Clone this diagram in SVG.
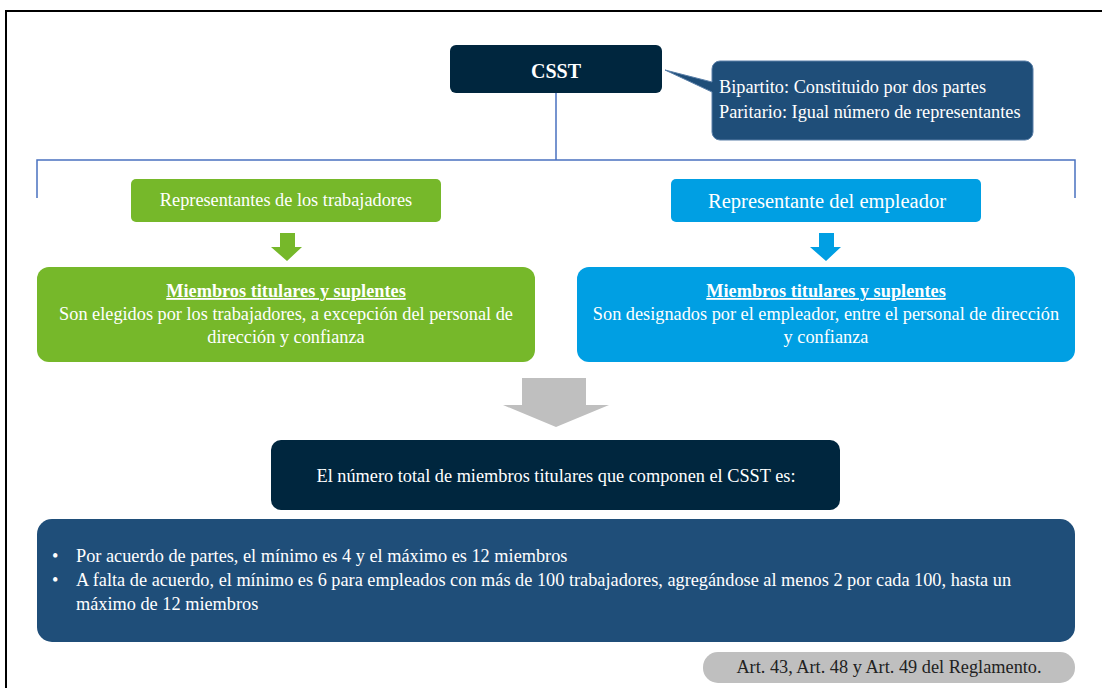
<svg xmlns="http://www.w3.org/2000/svg" width="1102" height="688" viewBox="0 0 1102 688" font-family="'Liberation Serif', 'Times New Roman', Tinos, serif">
<style>
.lbl{fill:#ffffff;font-size:18.3px;font-family:"Liberation Serif","Times New Roman",serif;}
.mid{text-anchor:middle;}
.conn{stroke:#4A72C0;stroke-width:1.5;fill:none;}
</style>
<rect x="0" y="0" width="1102" height="688" fill="#fff"/>
<path d="M6,688 V11 H1102" fill="none" stroke="#000" stroke-width="2"/>
<g id="connectors">
<path class="conn" d="M556,93 V160 M37,198 V160 H1075 V198"/>
</g>
<g id="csst">
<rect x="450" y="45" width="212" height="48" rx="6" fill="#00263E"/>
<text x="556" y="78" class="mid" fill="#fff" font-size="20" font-weight="bold">CSST</text>
</g>
<g id="callout">
<path d="M722,61 H1025 a8,8 0 0 1 8,8 V132 a8,8 0 0 1 -8,8 H720 a8,8 0 0 1 -8,-8 V92 L665,70 L712,82 V69 a8,8 0 0 1 8,-8 Z" fill="#1F4E79" stroke="#5A7FA8" stroke-width="1"/>
<text x="719" y="93" class="lbl">Bipartito: Constituido por dos partes</text>
<text x="719" y="118" class="lbl">Paritario: Igual número de representantes</text>
</g>
<g id="rep-trabajadores">
<rect x="131" y="179" width="310" height="43" rx="5" fill="#76B82A"/>
<text x="286" y="206" class="lbl mid">Representantes de los trabajadores</text>
</g>
<g id="rep-empleador">
<rect x="671" y="179" width="310" height="43" rx="5" fill="#009FE3"/>
<text x="827" y="208" class="lbl mid" style="font-size:20.5px">Representante del empleador</text>
</g>
<g id="arrow-green">
<path d="M280,233 H295 V247 H302 L287,261 L271,247 H280 Z" fill="#76B82A"/>
</g>
<g id="arrow-blue">
<path d="M819,233 H834 V247 H841 L826,261 L810,247 H819 Z" fill="#009FE3"/>
</g>
<g id="miembros-trabajadores">
<rect x="37" y="267" width="498" height="95" rx="12" fill="#76B82A"/>
<text x="286" y="297" class="lbl mid" font-weight="bold" text-decoration="underline">Miembros titulares y suplentes</text>
<text x="286" y="320" class="lbl mid">Son elegidos por los trabajadores, a excepción del personal de</text>
<text x="286" y="343" class="lbl mid">dirección y confianza</text>
</g>
<g id="miembros-empleador">
<rect x="577" y="267" width="498" height="95" rx="12" fill="#009FE3"/>
<text x="826" y="297" class="lbl mid" font-weight="bold" text-decoration="underline">Miembros titulares y suplentes</text>
<text x="826" y="320" class="lbl mid">Son designados por el empleador, entre el personal de dirección</text>
<text x="826" y="343" class="lbl mid">y confianza</text>
</g>
<g id="arrow-gray">
<path d="M522,378 H586 V405 H609 L556,427 L503,405 H522 Z" fill="#BFBFBF"/>
</g>
<g id="total">
<rect x="271" y="440" width="569" height="70" rx="10" fill="#00263E"/>
<text x="556" y="482" class="lbl mid">El número total de miembros titulares que componen el CSST es:</text>
</g>
<g id="reglas">
<rect x="37" y="519" width="1038" height="123" rx="15" fill="#1F4E79"/>
<text x="52" y="562" class="lbl">•</text>
<text x="76" y="562" class="lbl">Por acuerdo de partes, el mínimo es 4 y el máximo es 12 miembros</text>
<text x="52" y="586" class="lbl">•</text>
<text x="76" y="586" class="lbl">A falta de acuerdo, el mínimo es 6 para empleados con más de 100 trabajadores, agregándose al menos 2 por cada 100, hasta un</text>
<text x="76" y="610" class="lbl">máximo de 12 miembros</text>
</g>
<g id="referencia">
<rect x="703" y="652" width="372" height="31" rx="15" fill="#BFBFBF"/>
<text x="889" y="673" class="mid" fill="#222" font-size="18.3">Art. 43, Art. 48 y Art. 49 del Reglamento.</text>
</g>
</svg>
